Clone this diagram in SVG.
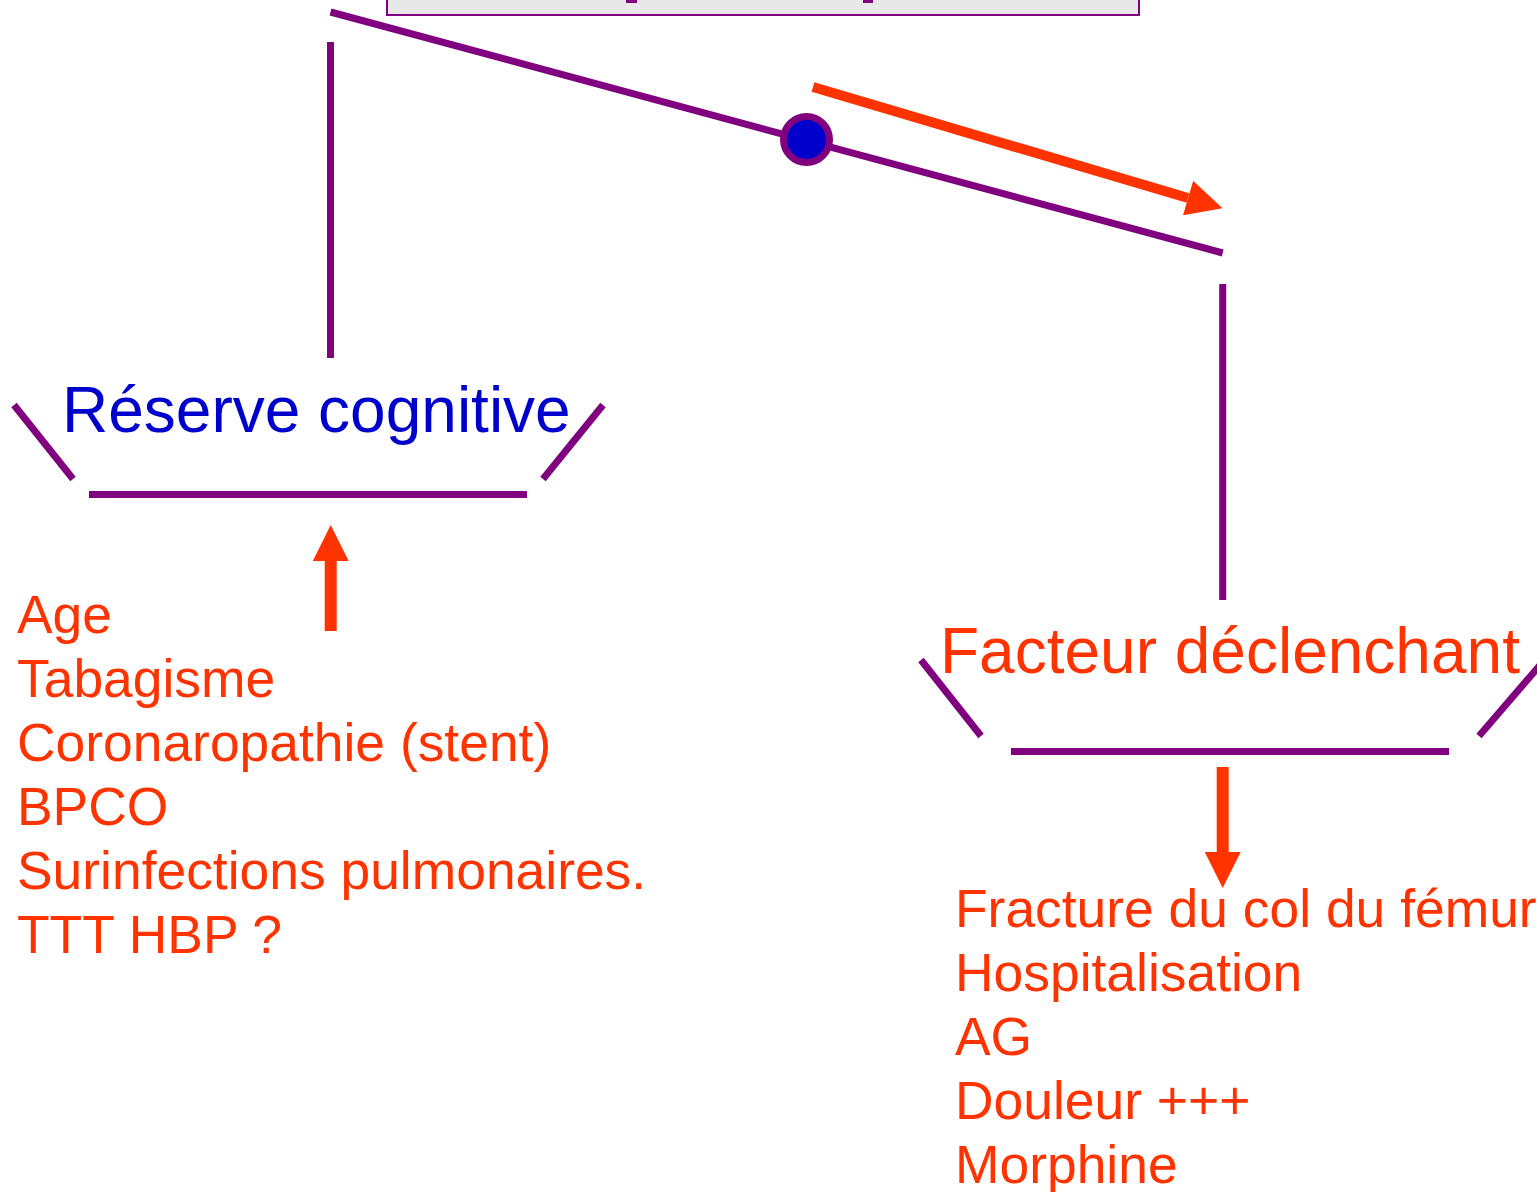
<svg xmlns="http://www.w3.org/2000/svg" width="1537" height="1192" viewBox="0 0 1537 1192">
  <style>
    .pl { stroke: #800080; stroke-width: 7; fill: none; stroke-linecap: butt; }
    .ar { stroke: #ff3300; fill: none; stroke-linecap: butt; }
    .txt { font-family: "Liberation Sans", Arial, sans-serif; }
    .item { font-family: "Liberation Sans", Arial, sans-serif; font-size: 53.4px; fill: #ff3300; }
  </style>
  <defs>
    <marker id="head" markerUnits="userSpaceOnUse" markerWidth="36" markerHeight="36" refX="0" refY="18" orient="auto" viewBox="0 0 36 36">
      <path d="M0,0 L36,18 L0,36 z" fill="#ff3300"/>
    </marker>
  </defs>
  <rect width="1537" height="1192" fill="#ffffff"/>

  <g id="top-box">
    <rect x="387" y="-40" width="752" height="55" fill="#e8e8e8" stroke="#800080" stroke-width="2"/>
    <rect x="626" y="0" width="11" height="3" fill="#800080"/>
    <rect x="863" y="0" width="10" height="3" fill="#800080"/>
  </g>

  <g id="connectors">
    <line class="pl" x1="330.5" y1="12" x2="1222.7" y2="253"/>
    <line class="pl" x1="330.5" y1="42" x2="330.5" y2="358"/>
    <line class="pl" x1="1222.7" y1="284" x2="1222.7" y2="600"/>
    <line class="ar" stroke-width="10" x1="813" y1="87" x2="1188" y2="198" marker-end="url(#head)"/>
    <line class="ar" stroke-width="12" x1="330.7" y1="631" x2="330.7" y2="561" marker-end="url(#head)"/>
    <line class="ar" stroke-width="12" x1="1222.7" y1="767" x2="1222.7" y2="852" marker-end="url(#head)"/>
  </g>

  <g id="junction">
    <circle cx="806.5" cy="139.5" r="23" fill="#0000cc" stroke="#800080" stroke-width="7"/>
  </g>

  <g id="reserve-cognitive">
    <text class="txt" x="62" y="432" font-size="64" fill="#0000cc">Réserve cognitive</text>
    <line class="pl" x1="14" y1="405" x2="73" y2="479"/>
    <line class="pl" x1="89" y1="494.5" x2="527" y2="494.5"/>
    <line class="pl" x1="543" y1="479" x2="603" y2="405"/>
  </g>

  <g id="facteur-declenchant">
    <text class="txt" x="940" y="673" font-size="64" fill="#ff3300">Facteur déclenchant</text>
    <line class="pl" x1="921" y1="660" x2="981" y2="736"/>
    <line class="pl" x1="1011" y1="751.5" x2="1449" y2="751.5"/>
    <line class="pl" x1="1479" y1="736" x2="1541" y2="664"/>
  </g>

  <g id="risk-factors">
    <text class="item" x="17" y="633">Age</text>
    <text class="item" x="17" y="697">Tabagisme</text>
    <text class="item" x="17" y="761">Coronaropathie (stent)</text>
    <text class="item" x="17" y="825">BPCO</text>
    <text class="item" x="17" y="889">Surinfections pulmonaires.</text>
    <text class="item" x="17" y="953">TTT HBP ?</text>
  </g>

  <g id="triggers">
    <text class="item" x="955" y="927">Fracture du col du fémur</text>
    <text class="item" x="955" y="991">Hospitalisation</text>
    <text class="item" x="955" y="1055">AG</text>
    <text class="item" x="955" y="1119">Douleur +++</text>
    <text class="item" x="955" y="1183">Morphine</text>
  </g>
</svg>
